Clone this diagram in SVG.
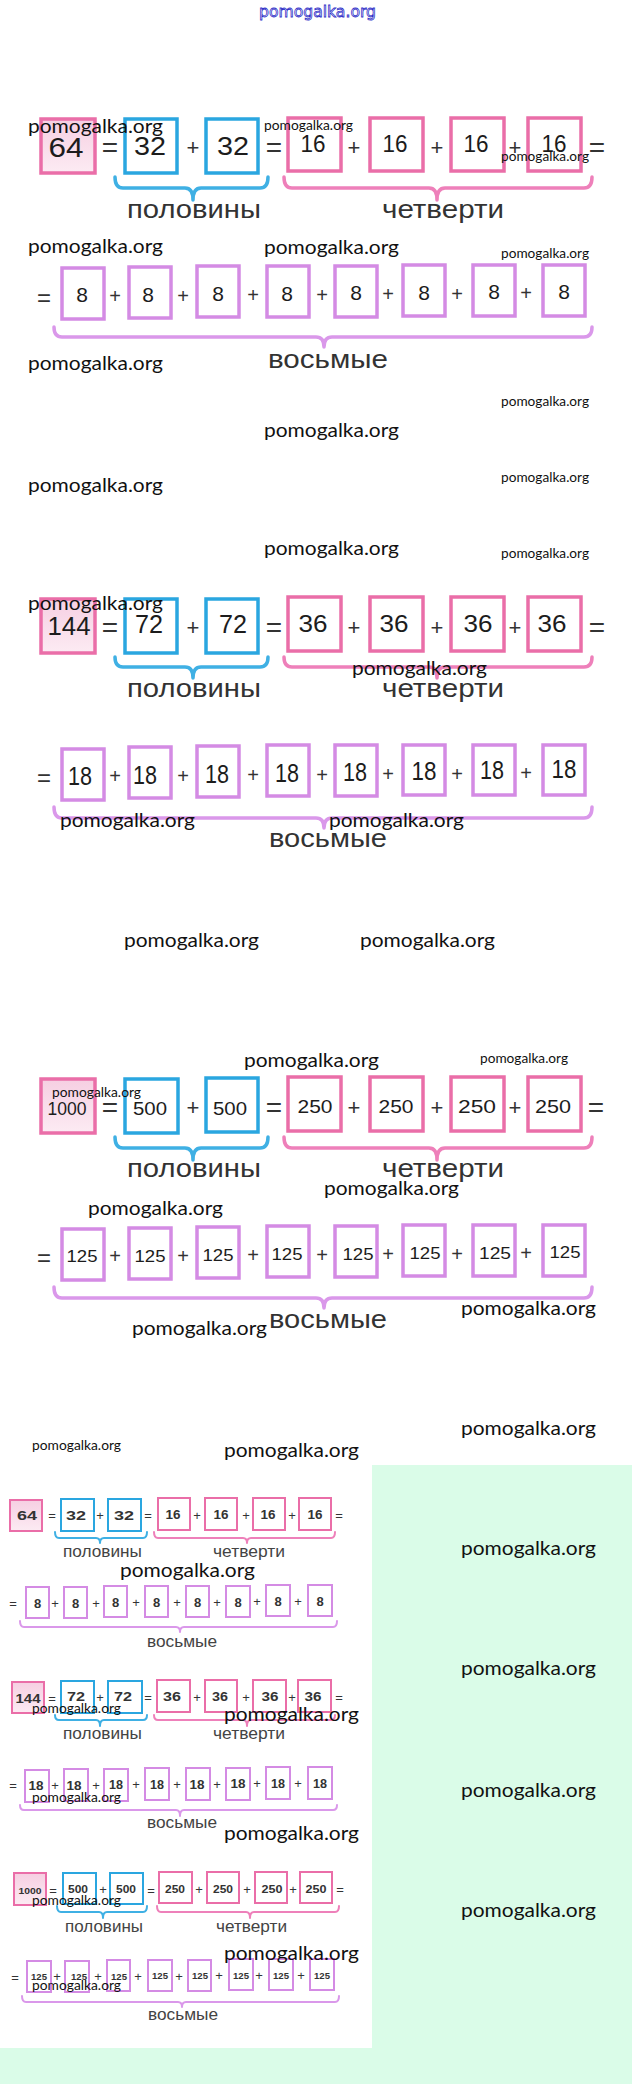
<svg xmlns="http://www.w3.org/2000/svg" width="632" height="2084" viewBox="0 0 632 2084">
<style>
.pk{fill:#fff;stroke:#ea6ea8;stroke-width:3.5}
.pk0{fill:url(#pg);stroke:#ea6ea8;stroke-width:3.5}
.bl{fill:#fff;stroke:#2aa6e0;stroke-width:3.5}
.pu{fill:#fff;stroke:#d48be4;stroke-width:3.5}
.sm .pk,.sm .pk0,.sm .bl,.sm .pu{stroke-width:2}
.n{font-family:"Liberation Sans",Arial,sans-serif;fill:#1c1c1c;text-anchor:middle}
.sm .n{font-weight:bold;fill:#333}
.o{font-family:"Liberation Sans",Arial,sans-serif;fill:#333;text-anchor:middle}
.lab{font-family:"Liberation Sans",Arial,sans-serif;fill:#333;font-size:25px}
.sm .lab{font-size:17px;fill:#444}
.br{fill:none;stroke-width:3.5;stroke-linecap:round;stroke-linejoin:round}
.sm .br{stroke-width:2}
.bb{stroke:#3fb0e4}.bp{stroke:#ee80ba}.bv{stroke:#da98ea}
.w{font-family:Lato,"Open Sans",sans-serif;fill:#111;font-size:20px}
.ws{font-size:13px}
</style>
<defs>
<linearGradient id="pg" x1="0" y1="0" x2="0" y2="1"><stop offset="0" stop-color="#f6cfe2"/><stop offset="1" stop-color="#fcebf3"/></linearGradient>
</defs>
<rect width="632" height="2084" fill="#fff"/>
<rect x="0" y="1465" width="632" height="619" fill="#dafce8"/>
<rect x="0" y="1465" width="372" height="583" fill="#fff"/>

<text x="259" y="17" font-family="DejaVu Sans,sans-serif" font-size="16" textLength="117" lengthAdjust="spacingAndGlyphs" fill="#fff" stroke="#3030c8" stroke-width="0.8">pomogalka.org</text>

<!-- Section 1 -->
<g id="sec1">
<g id="s1-64"><rect class="pk0" x="41" y="119" width="54" height="54"/><text class="n" x="66" y="157" font-size="28" textLength="35" lengthAdjust="spacingAndGlyphs">64</text></g>
<g id="s1-h1"><rect class="bl" x="125" y="119" width="52" height="54"/><text class="n" x="150" y="155" font-size="26" textLength="32" lengthAdjust="spacingAndGlyphs">32</text></g>
<g id="s1-h2"><rect class="bl" x="206" y="119" width="52" height="54"/><text class="n" x="233" y="155" font-size="26" textLength="32" lengthAdjust="spacingAndGlyphs">32</text></g>
<g id="s1-q1"><rect class="pk" x="288" y="118" width="53" height="53"/><text class="n" x="313" y="152" font-size="24" textLength="25" lengthAdjust="spacingAndGlyphs">16</text></g>
<g id="s1-q2"><rect class="pk" x="370" y="118" width="53" height="53"/><text class="n" x="395" y="152" font-size="24" textLength="25" lengthAdjust="spacingAndGlyphs">16</text></g>
<g id="s1-q3"><rect class="pk" x="451" y="118" width="53" height="53"/><text class="n" x="476" y="152" font-size="24" textLength="25" lengthAdjust="spacingAndGlyphs">16</text></g>
<g id="s1-q4"><rect class="pk" x="528" y="118" width="53" height="53"/><text class="n" x="554" y="152" font-size="24" textLength="25" lengthAdjust="spacingAndGlyphs">16</text></g>
<g id="s1-e1"><rect class="pu" x="62" y="268" width="42" height="51"/><text class="n" x="82" y="302" font-size="21">8</text></g>
<g id="s1-e2"><rect class="pu" x="129" y="267" width="42" height="51"/><text class="n" x="148" y="302" font-size="21">8</text></g>
<g id="s1-e3"><rect class="pu" x="197" y="266" width="42" height="51"/><text class="n" x="218" y="301" font-size="21">8</text></g>
<g id="s1-e4"><rect class="pu" x="267" y="266" width="42" height="51"/><text class="n" x="287" y="301" font-size="21">8</text></g>
<g id="s1-e5"><rect class="pu" x="335" y="266" width="42" height="51"/><text class="n" x="356" y="300" font-size="21">8</text></g>
<g id="s1-e6"><rect class="pu" x="403" y="265" width="42" height="51"/><text class="n" x="424" y="300" font-size="21">8</text></g>
<g id="s1-e7"><rect class="pu" x="473" y="265" width="42" height="51"/><text class="n" x="494" y="299" font-size="21">8</text></g>
<g id="s1-e8"><rect class="pu" x="543" y="265" width="42" height="51"/><text class="n" x="564" y="299" font-size="21">8</text></g>
<g id="s1-ops" class="o">
<text x="110" y="157" font-size="28">=</text><text x="193" y="155" font-size="22">+</text><text x="274" y="157" font-size="28">=</text>
<text x="354" y="155" font-size="22">+</text><text x="437" y="155" font-size="22">+</text><text x="515" y="155" font-size="22">+</text><text x="597" y="157" font-size="28">=</text>
<text x="44" y="306" font-size="24">=</text>
<text x="115" y="303" font-size="20">+</text><text x="183" y="303" font-size="20">+</text><text x="253" y="302" font-size="20">+</text><text x="322" y="302" font-size="20">+</text><text x="388" y="301" font-size="20">+</text><text x="457" y="301" font-size="20">+</text><text x="526" y="300" font-size="20">+</text>
</g>
<g id="s1-connectors">
<path class="br bb" d="M115,177 Q115,188 123,188 L185,188 Q193,188 193,200 Q193,188 201,188 L260,188 Q268,188 268,177"/>
<path class="br bp" d="M284,177 Q284,188 292,188 L429,188 Q437,188 437,200 Q437,188 445,188 L584,188 Q592,188 592,177"/>
<path class="br bv" d="M54,327 Q54,337 62,337 L316,337 Q324,337 324,347 Q324,337 332,337 L584,337 Q592,337 592,327"/>
</g>
<g id="s1-labels">
<text class="lab" x="127" y="218" textLength="134" lengthAdjust="spacingAndGlyphs">половины</text>
<text class="lab" x="382" y="218" textLength="122" lengthAdjust="spacingAndGlyphs">четверти</text>
<text class="lab" x="268" y="368" textLength="120" lengthAdjust="spacingAndGlyphs">восьмые</text>
</g>
</g>

<!-- Section 2 -->
<g id="sec2" transform="translate(0,480)">
<g id="s2-144"><rect class="pk0" x="41" y="119" width="54" height="54"/><text class="n" x="69" y="155" font-size="26" textLength="43" lengthAdjust="spacingAndGlyphs">144</text></g>
<g id="s2-h1"><rect class="bl" x="125" y="119" width="52" height="54"/><text class="n" x="149" y="153" font-size="25" textLength="28" lengthAdjust="spacingAndGlyphs">72</text></g>
<g id="s2-h2"><rect class="bl" x="206" y="119" width="52" height="54"/><text class="n" x="233" y="153" font-size="25" textLength="28" lengthAdjust="spacingAndGlyphs">72</text></g>
<g id="s2-q1"><rect class="pk" x="288" y="117" width="53" height="54"/><text class="n" x="313" y="152" font-size="24" textLength="29" lengthAdjust="spacingAndGlyphs">36</text></g>
<g id="s2-q2"><rect class="pk" x="370" y="117" width="53" height="54"/><text class="n" x="394" y="152" font-size="24" textLength="29" lengthAdjust="spacingAndGlyphs">36</text></g>
<g id="s2-q3"><rect class="pk" x="451" y="117" width="53" height="54"/><text class="n" x="478" y="152" font-size="24" textLength="29" lengthAdjust="spacingAndGlyphs">36</text></g>
<g id="s2-q4"><rect class="pk" x="528" y="117" width="53" height="54"/><text class="n" x="552" y="152" font-size="24" textLength="29" lengthAdjust="spacingAndGlyphs">36</text></g>
<g id="s2-e1"><rect class="pu" x="62" y="269" width="42" height="51"/><text class="n" x="80" y="305" font-size="25" textLength="24" lengthAdjust="spacingAndGlyphs">18</text></g>
<g id="s2-e2"><rect class="pu" x="129" y="267" width="42" height="51"/><text class="n" x="145" y="304" font-size="25" textLength="24" lengthAdjust="spacingAndGlyphs">18</text></g>
<g id="s2-e3"><rect class="pu" x="197" y="266" width="42" height="51"/><text class="n" x="217" y="303" font-size="25" textLength="24" lengthAdjust="spacingAndGlyphs">18</text></g>
<g id="s2-e4"><rect class="pu" x="267" y="265" width="42" height="51"/><text class="n" x="287" y="302" font-size="25" textLength="24" lengthAdjust="spacingAndGlyphs">18</text></g>
<g id="s2-e5"><rect class="pu" x="335" y="265" width="42" height="51"/><text class="n" x="355" y="301" font-size="25" textLength="24" lengthAdjust="spacingAndGlyphs">18</text></g>
<g id="s2-e6"><rect class="pu" x="403" y="265" width="42" height="50"/><text class="n" x="424" y="300" font-size="25" textLength="25" lengthAdjust="spacingAndGlyphs">18</text></g>
<g id="s2-e7"><rect class="pu" x="473" y="265" width="42" height="50"/><text class="n" x="492" y="299" font-size="25" textLength="24" lengthAdjust="spacingAndGlyphs">18</text></g>
<g id="s2-e8"><rect class="pu" x="543" y="265" width="42" height="50"/><text class="n" x="564" y="298" font-size="25" textLength="25" lengthAdjust="spacingAndGlyphs">18</text></g>
<g id="s2-ops" class="o">
<text x="110" y="157" font-size="28">=</text><text x="193" y="155" font-size="22">+</text><text x="274" y="157" font-size="28">=</text>
<text x="354" y="155" font-size="22">+</text><text x="437" y="155" font-size="22">+</text><text x="515" y="155" font-size="22">+</text><text x="597" y="157" font-size="28">=</text>
<text x="44" y="306" font-size="24">=</text>
<text x="115" y="303" font-size="20">+</text><text x="183" y="303" font-size="20">+</text><text x="253" y="302" font-size="20">+</text><text x="322" y="302" font-size="20">+</text><text x="388" y="301" font-size="20">+</text><text x="457" y="301" font-size="20">+</text><text x="526" y="300" font-size="20">+</text>
</g>
<g id="s2-connectors">
<path class="br bb" d="M115,177 Q115,187 123,187 L185,187 Q193,187 193,198 Q193,187 201,187 L260,187 Q268,187 268,177"/>
<path class="br bp" d="M284,177 Q284,187 292,187 L429,187 Q437,187 437,198 Q437,187 445,187 L584,187 Q592,187 592,177"/>
<path class="br bv" d="M54,327 Q54,338 62,338 L316,338 Q324,338 324,348 Q324,338 332,338 L584,338 Q592,338 592,327"/>
</g>
<g id="s2-labels">
<text class="lab" x="127" y="217" textLength="134" lengthAdjust="spacingAndGlyphs">половины</text>
<text class="lab" x="382" y="217" textLength="122" lengthAdjust="spacingAndGlyphs">четверти</text>
<text class="lab" x="269" y="367" textLength="118" lengthAdjust="spacingAndGlyphs">восьмые</text>
</g>
</g>

<!-- Section 3 -->
<g id="sec3" transform="translate(0,960)">
<g id="s3-1000"><rect class="pk0" x="41" y="119" width="54" height="54"/><text class="n" x="67" y="155" font-size="18" textLength="39" lengthAdjust="spacingAndGlyphs">1000</text></g>
<g id="s3-h1"><rect class="bl" x="125" y="119" width="53" height="54"/><text class="n" x="150" y="155" font-size="18" textLength="34" lengthAdjust="spacingAndGlyphs">500</text></g>
<g id="s3-h2"><rect class="bl" x="206" y="118" width="52" height="54"/><text class="n" x="230" y="155" font-size="18" textLength="34" lengthAdjust="spacingAndGlyphs">500</text></g>
<g id="s3-q1"><rect class="pk" x="288" y="117" width="53" height="54"/><text class="n" x="315" y="153" font-size="18" textLength="35" lengthAdjust="spacingAndGlyphs">250</text></g>
<g id="s3-q2"><rect class="pk" x="370" y="117" width="53" height="54"/><text class="n" x="396" y="153" font-size="18" textLength="35" lengthAdjust="spacingAndGlyphs">250</text></g>
<g id="s3-q3"><rect class="pk" x="451" y="117" width="53" height="54"/><text class="n" x="477" y="153" font-size="18" textLength="38" lengthAdjust="spacingAndGlyphs">250</text></g>
<g id="s3-q4"><rect class="pk" x="528" y="117" width="53" height="54"/><text class="n" x="553" y="153" font-size="18" textLength="36" lengthAdjust="spacingAndGlyphs">250</text></g>
<g id="s3-e1"><rect class="pu" x="62" y="269" width="42" height="51"/><text class="n" x="82" y="302" font-size="17" textLength="31" lengthAdjust="spacingAndGlyphs">125</text></g>
<g id="s3-e2"><rect class="pu" x="129" y="268" width="42" height="51"/><text class="n" x="150" y="302" font-size="17" textLength="31" lengthAdjust="spacingAndGlyphs">125</text></g>
<g id="s3-e3"><rect class="pu" x="197" y="267" width="42" height="51"/><text class="n" x="218" y="301" font-size="17" textLength="31" lengthAdjust="spacingAndGlyphs">125</text></g>
<g id="s3-e4"><rect class="pu" x="267" y="266" width="42" height="51"/><text class="n" x="287" y="300" font-size="17" textLength="31" lengthAdjust="spacingAndGlyphs">125</text></g>
<g id="s3-e5"><rect class="pu" x="335" y="266" width="42" height="51"/><text class="n" x="358" y="300" font-size="17" textLength="31" lengthAdjust="spacingAndGlyphs">125</text></g>
<g id="s3-e6"><rect class="pu" x="403" y="265" width="42" height="51"/><text class="n" x="425" y="299" font-size="17" textLength="31" lengthAdjust="spacingAndGlyphs">125</text></g>
<g id="s3-e7"><rect class="pu" x="473" y="265" width="42" height="51"/><text class="n" x="495" y="299" font-size="17" textLength="32" lengthAdjust="spacingAndGlyphs">125</text></g>
<g id="s3-e8"><rect class="pu" x="543" y="265" width="42" height="51"/><text class="n" x="565" y="298" font-size="17" textLength="31" lengthAdjust="spacingAndGlyphs">125</text></g>
<g id="s3-ops" class="o">
<text x="110" y="157" font-size="28">=</text><text x="193" y="155" font-size="22">+</text><text x="274" y="157" font-size="28">=</text>
<text x="354" y="155" font-size="22">+</text><text x="437" y="155" font-size="22">+</text><text x="515" y="155" font-size="22">+</text><text x="596" y="157" font-size="28">=</text>
<text x="44" y="306" font-size="24">=</text>
<text x="115" y="303" font-size="20">+</text><text x="183" y="303" font-size="20">+</text><text x="253" y="302" font-size="20">+</text><text x="322" y="302" font-size="20">+</text><text x="388" y="301" font-size="20">+</text><text x="457" y="301" font-size="20">+</text><text x="526" y="300" font-size="20">+</text>
</g>
<g id="s3-connectors">
<path class="br bb" d="M115,177 Q115,188 123,188 L185,188 Q193,188 193,200 Q193,188 201,188 L260,188 Q268,188 268,177"/>
<path class="br bp" d="M284,177 Q284,188 292,188 L429,188 Q437,188 437,200 Q437,188 445,188 L584,188 Q592,188 592,177"/>
<path class="br bv" d="M54,327 Q54,338 62,338 L316,338 Q324,338 324,348 Q324,338 332,338 L584,338 Q592,338 592,327"/>
</g>
<g id="s3-labels">
<text class="lab" x="127" y="217" textLength="134" lengthAdjust="spacingAndGlyphs">половины</text>
<text class="lab" x="382" y="217" textLength="122" lengthAdjust="spacingAndGlyphs">четверти</text>
<text class="lab" x="269" y="368" textLength="118" lengthAdjust="spacingAndGlyphs">восьмые</text>
</g>
</g>

<!-- Small panel -->
<g id="small" class="sm">
<g id="p1">
<g id="p1-64"><rect class="pk0" x="10" y="1500" width="32" height="31"/><text class="n" x="27" y="1520" font-size="12" textLength="20" lengthAdjust="spacingAndGlyphs">64</text></g>
<g id="p1-h1"><rect class="bl" x="61" y="1499" width="33" height="32"/><text class="n" x="76" y="1520" font-size="12" textLength="20" lengthAdjust="spacingAndGlyphs">32</text></g>
<g id="p1-h2"><rect class="bl" x="108" y="1499" width="33" height="32"/><text class="n" x="124" y="1520" font-size="12" textLength="20" lengthAdjust="spacingAndGlyphs">32</text></g>
<g id="p1-q1"><rect class="pk" x="158" y="1498" width="32" height="32"/><text class="n" x="173" y="1519" font-size="12" textLength="15" lengthAdjust="spacingAndGlyphs">16</text></g>
<g id="p1-q2"><rect class="pk" x="205" y="1498" width="32" height="32"/><text class="n" x="221" y="1519" font-size="12" textLength="15" lengthAdjust="spacingAndGlyphs">16</text></g>
<g id="p1-q3"><rect class="pk" x="253" y="1498" width="32" height="32"/><text class="n" x="268" y="1519" font-size="12" textLength="15" lengthAdjust="spacingAndGlyphs">16</text></g>
<g id="p1-q4"><rect class="pk" x="299" y="1498" width="32" height="32"/><text class="n" x="315" y="1519" font-size="12" textLength="15" lengthAdjust="spacingAndGlyphs">16</text></g>
<g id="p1-e1"><rect class="pu" x="26" y="1587" width="23" height="31"/><text class="n" x="37.5" y="1608" font-size="13">8</text></g>
<g id="p1-e2"><rect class="pu" x="64" y="1587" width="23" height="31"/><text class="n" x="75.5" y="1608" font-size="13">8</text></g>
<g id="p1-e3"><rect class="pu" x="104" y="1586" width="23" height="31"/><text class="n" x="115.5" y="1607" font-size="13">8</text></g>
<g id="p1-e4"><rect class="pu" x="145" y="1586" width="23" height="31"/><text class="n" x="156.5" y="1607" font-size="13">8</text></g>
<g id="p1-e5"><rect class="pu" x="186" y="1586" width="23" height="31"/><text class="n" x="197.5" y="1607" font-size="13">8</text></g>
<g id="p1-e6"><rect class="pu" x="226" y="1586" width="24" height="31"/><text class="n" x="238" y="1607" font-size="13">8</text></g>
<g id="p1-e7"><rect class="pu" x="266" y="1585" width="24" height="31"/><text class="n" x="278" y="1606" font-size="13">8</text></g>
<g id="p1-e8"><rect class="pu" x="308" y="1585" width="24" height="31"/><text class="n" x="320" y="1606" font-size="13">8</text></g>
<g id="p1-ops" class="o" font-size="13">
<text x="52" y="1520">=</text><text x="100" y="1520">+</text><text x="148" y="1520">=</text><text x="197" y="1520">+</text><text x="246" y="1520">+</text><text x="292" y="1520">+</text><text x="339" y="1520">=</text>
<text x="13" y="1608">=</text><text x="55" y="1608">+</text><text x="96" y="1608">+</text><text x="136" y="1607">+</text><text x="177" y="1607">+</text><text x="217" y="1607">+</text><text x="257" y="1606">+</text><text x="298" y="1606">+</text>
</g>
<g id="p1-connectors">
<path class="br bb" d="M55,1532 Q55,1538 59,1538 L96,1538 Q100,1538 100,1543 Q100,1538 104,1538 L143,1538 Q147,1538 147,1532"/>
<path class="br bp" d="M154,1532 Q154,1538 158,1538 L243,1538 Q247,1538 247,1543 Q247,1538 251,1538 L331,1538 Q335,1538 335,1532"/>
<path class="br bv" d="M20,1621 Q20,1627 24,1627 L176,1627 Q180,1627 180,1632 Q180,1627 184,1627 L333,1627 Q337,1627 337,1621"/>
</g>
<g id="p1-labels">
<text class="lab" x="63" y="1557" textLength="79" lengthAdjust="spacingAndGlyphs">половины</text>
<text class="lab" x="213" y="1557" textLength="72" lengthAdjust="spacingAndGlyphs">четверти</text>
<text class="lab" x="147" y="1647" textLength="70" lengthAdjust="spacingAndGlyphs">восьмые</text>
</g>
</g>

<g id="p2" transform="translate(1,182)">
<g id="p2-144"><rect class="pk0" x="11" y="1500" width="32" height="31"/><text class="n" x="27" y="1521" font-size="12" textLength="25" lengthAdjust="spacingAndGlyphs">144</text></g>
<g id="p2-h1"><rect class="bl" x="60" y="1499" width="33" height="32"/><text class="n" x="75" y="1519" font-size="12" textLength="18" lengthAdjust="spacingAndGlyphs">72</text></g>
<g id="p2-h2"><rect class="bl" x="107" y="1499" width="34" height="32"/><text class="n" x="122" y="1519" font-size="12" textLength="18" lengthAdjust="spacingAndGlyphs">72</text></g>
<g id="p2-q1"><rect class="pk" x="156" y="1498" width="33" height="32"/><text class="n" x="171" y="1519" font-size="12" textLength="18" lengthAdjust="spacingAndGlyphs">36</text></g>
<g id="p2-q2"><rect class="pk" x="204" y="1498" width="32" height="32"/><text class="n" x="219" y="1519" font-size="12" textLength="16" lengthAdjust="spacingAndGlyphs">36</text></g>
<g id="p2-q3"><rect class="pk" x="252" y="1498" width="33" height="32"/><text class="n" x="269" y="1519" font-size="12" textLength="17" lengthAdjust="spacingAndGlyphs">36</text></g>
<g id="p2-q4"><rect class="pk" x="297" y="1498" width="33" height="32"/><text class="n" x="312" y="1519" font-size="12" textLength="17" lengthAdjust="spacingAndGlyphs">36</text></g>
<g id="p2-e1"><rect class="pu" x="24" y="1588" width="24" height="32"/><text class="n" x="35" y="1608" font-size="13" textLength="15" lengthAdjust="spacingAndGlyphs">18</text></g>
<g id="p2-e2"><rect class="pu" x="63" y="1587" width="24" height="32"/><text class="n" x="73" y="1608" font-size="13" textLength="15" lengthAdjust="spacingAndGlyphs">18</text></g>
<g id="p2-e3"><rect class="pu" x="103" y="1587" width="24" height="32"/><text class="n" x="115" y="1607" font-size="13" textLength="14" lengthAdjust="spacingAndGlyphs">18</text></g>
<g id="p2-e4"><rect class="pu" x="144" y="1586" width="24" height="32"/><text class="n" x="156" y="1607" font-size="13" textLength="14" lengthAdjust="spacingAndGlyphs">18</text></g>
<g id="p2-e5"><rect class="pu" x="185" y="1586" width="24" height="32"/><text class="n" x="196" y="1607" font-size="13" textLength="15" lengthAdjust="spacingAndGlyphs">18</text></g>
<g id="p2-e6"><rect class="pu" x="225" y="1586" width="24" height="32"/><text class="n" x="237" y="1606" font-size="13" textLength="15" lengthAdjust="spacingAndGlyphs">18</text></g>
<g id="p2-e7"><rect class="pu" x="265" y="1585" width="24" height="32"/><text class="n" x="277" y="1606" font-size="13" textLength="14" lengthAdjust="spacingAndGlyphs">18</text></g>
<g id="p2-e8"><rect class="pu" x="307" y="1585" width="24" height="32"/><text class="n" x="319" y="1606" font-size="13" textLength="14" lengthAdjust="spacingAndGlyphs">18</text></g>
<g id="p2-ops" class="o" font-size="13">
<text x="51" y="1521">=</text><text x="99" y="1520">+</text><text x="147" y="1520">=</text><text x="196" y="1520">+</text><text x="245" y="1520">+</text><text x="291" y="1520">+</text><text x="338" y="1520">=</text>
<text x="12" y="1608">=</text><text x="54" y="1608">+</text><text x="95" y="1608">+</text><text x="135" y="1607">+</text><text x="176" y="1607">+</text><text x="216" y="1607">+</text><text x="256" y="1606">+</text><text x="297" y="1606">+</text>
</g>
<g id="p2-connectors">
<path class="br bb" d="M54,1533 Q54,1538 58,1538 L95,1538 Q99,1538 99,1544 Q99,1538 103,1538 L142,1538 Q146,1538 146,1533"/>
<path class="br bp" d="M153,1533 Q153,1538 157,1538 L242,1538 Q246,1538 246,1544 Q246,1538 250,1538 L330,1538 Q334,1538 334,1533"/>
<path class="br bv" d="M19,1623 Q19,1628 23,1628 L175,1628 Q179,1628 179,1634 Q179,1628 183,1628 L332,1628 Q336,1628 336,1623"/>
</g>
<g id="p2-labels">
<text class="lab" x="62" y="1557" textLength="79" lengthAdjust="spacingAndGlyphs">половины</text>
<text class="lab" x="212" y="1557" textLength="72" lengthAdjust="spacingAndGlyphs">четверти</text>
<text class="lab" x="146" y="1646" textLength="70" lengthAdjust="spacingAndGlyphs">восьмые</text>
</g>
</g>

<g id="p3" transform="translate(2,374)">
<g id="p3-1000"><rect class="pk0" x="12" y="1499" width="32" height="32"/><text class="n" x="28" y="1520" font-size="9" textLength="23" lengthAdjust="spacingAndGlyphs">1000</text></g>
<g id="p3-h1"><rect class="bl" x="61" y="1499" width="33" height="31"/><text class="n" x="76" y="1519" font-size="10" textLength="20" lengthAdjust="spacingAndGlyphs">500</text></g>
<g id="p3-h2"><rect class="bl" x="108" y="1499" width="33" height="31"/><text class="n" x="124" y="1519" font-size="10" textLength="20" lengthAdjust="spacingAndGlyphs">500</text></g>
<g id="p3-q1"><rect class="pk" x="157" y="1498" width="33" height="31"/><text class="n" x="173" y="1519" font-size="10" textLength="20" lengthAdjust="spacingAndGlyphs">250</text></g>
<g id="p3-q2"><rect class="pk" x="205" y="1498" width="32" height="31"/><text class="n" x="221" y="1519" font-size="10" textLength="20" lengthAdjust="spacingAndGlyphs">250</text></g>
<g id="p3-q3"><rect class="pk" x="253" y="1498" width="32" height="31"/><text class="n" x="270" y="1519" font-size="10" textLength="21" lengthAdjust="spacingAndGlyphs">250</text></g>
<g id="p3-q4"><rect class="pk" x="298" y="1498" width="32" height="31"/><text class="n" x="314" y="1519" font-size="10" textLength="21" lengthAdjust="spacingAndGlyphs">250</text></g>
<g id="p3-e1"><rect class="pu" x="25" y="1587" width="24" height="31"/><text class="n" x="37" y="1606" font-size="9.5" textLength="16" lengthAdjust="spacingAndGlyphs">125</text></g>
<g id="p3-e2"><rect class="pu" x="63" y="1587" width="24" height="31"/><text class="n" x="77" y="1606" font-size="9.5" textLength="16" lengthAdjust="spacingAndGlyphs">125</text></g>
<g id="p3-e3"><rect class="pu" x="105" y="1586" width="23" height="31"/><text class="n" x="117" y="1606" font-size="9.5" textLength="16" lengthAdjust="spacingAndGlyphs">125</text></g>
<g id="p3-e4"><rect class="pu" x="146" y="1586" width="24" height="31"/><text class="n" x="158" y="1605" font-size="9.5" textLength="16" lengthAdjust="spacingAndGlyphs">125</text></g>
<g id="p3-e5"><rect class="pu" x="186" y="1586" width="23" height="31"/><text class="n" x="198" y="1605" font-size="9.5" textLength="16" lengthAdjust="spacingAndGlyphs">125</text></g>
<g id="p3-e6"><rect class="pu" x="227" y="1585" width="24" height="31"/><text class="n" x="239" y="1605" font-size="9.5" textLength="16" lengthAdjust="spacingAndGlyphs">125</text></g>
<g id="p3-e7"><rect class="pu" x="267" y="1585" width="24" height="31"/><text class="n" x="279" y="1605" font-size="9.5" textLength="16" lengthAdjust="spacingAndGlyphs">125</text></g>
<g id="p3-e8"><rect class="pu" x="308" y="1585" width="24" height="31"/><text class="n" x="320" y="1605" font-size="9.5" textLength="16" lengthAdjust="spacingAndGlyphs">125</text></g>
<g id="p3-ops" class="o" font-size="13">
<text x="51" y="1521">=</text><text x="101" y="1520">+</text><text x="149" y="1521">=</text><text x="197" y="1520">+</text><text x="245" y="1520">+</text><text x="291" y="1520">+</text><text x="338" y="1520">=</text>
<text x="13" y="1608">=</text><text x="55" y="1607">+</text><text x="96" y="1607">+</text><text x="136" y="1607">+</text><text x="177" y="1607">+</text><text x="217" y="1606">+</text><text x="257" y="1606">+</text><text x="299" y="1606">+</text>
</g>
<g id="p3-connectors">
<path class="br bb" d="M55,1532 Q55,1538 59,1538 L97,1538 Q101,1538 101,1544 Q101,1538 105,1538 L141,1538 Q145,1538 145,1532"/>
<path class="br bp" d="M155,1532 Q155,1538 159,1538 L244,1538 Q248,1538 248,1544 Q248,1538 252,1538 L333,1538 Q337,1538 337,1532"/>
<path class="br bv" d="M20,1622 Q20,1628 24,1628 L176,1628 Q180,1628 180,1633 Q180,1628 184,1628 L333,1628 Q337,1628 337,1622"/>
</g>
<g id="p3-labels">
<text class="lab" x="63" y="1558" textLength="78" lengthAdjust="spacingAndGlyphs">половины</text>
<text class="lab" x="214" y="1558" textLength="71" lengthAdjust="spacingAndGlyphs">четверти</text>
<text class="lab" x="146" y="1646" textLength="70" lengthAdjust="spacingAndGlyphs">восьмые</text>
</g>
</g>
</g>

<!-- Watermarks -->
<g id="watermarks" class="w">
<text x="28" y="133" textLength="135" lengthAdjust="spacingAndGlyphs">pomogalka.org</text>
<text class="ws" x="264" y="130" textLength="89" lengthAdjust="spacingAndGlyphs">pomogalka.org</text>
<text class="ws" x="501" y="161" textLength="88" lengthAdjust="spacingAndGlyphs">pomogalka.org</text>
<text x="28" y="253" textLength="135" lengthAdjust="spacingAndGlyphs">pomogalka.org</text>
<text x="264" y="254" textLength="135" lengthAdjust="spacingAndGlyphs">pomogalka.org</text>
<text class="ws" x="501" y="258" textLength="88" lengthAdjust="spacingAndGlyphs">pomogalka.org</text>
<text x="28" y="370" textLength="135" lengthAdjust="spacingAndGlyphs">pomogalka.org</text>
<text class="ws" x="501" y="406" textLength="88" lengthAdjust="spacingAndGlyphs">pomogalka.org</text>
<text x="264" y="437" textLength="135" lengthAdjust="spacingAndGlyphs">pomogalka.org</text>
<text x="28" y="492" textLength="135" lengthAdjust="spacingAndGlyphs">pomogalka.org</text>
<text class="ws" x="501" y="482" textLength="88" lengthAdjust="spacingAndGlyphs">pomogalka.org</text>
<text x="264" y="555" textLength="135" lengthAdjust="spacingAndGlyphs">pomogalka.org</text>
<text class="ws" x="501" y="558" textLength="88" lengthAdjust="spacingAndGlyphs">pomogalka.org</text>
<text x="28" y="610" textLength="135" lengthAdjust="spacingAndGlyphs">pomogalka.org</text>
<text x="352" y="675" textLength="135" lengthAdjust="spacingAndGlyphs">pomogalka.org</text>
<text x="60" y="827" textLength="135" lengthAdjust="spacingAndGlyphs">pomogalka.org</text>
<text x="329" y="827" textLength="135" lengthAdjust="spacingAndGlyphs">pomogalka.org</text>
<text x="124" y="947" textLength="135" lengthAdjust="spacingAndGlyphs">pomogalka.org</text>
<text x="360" y="947" textLength="135" lengthAdjust="spacingAndGlyphs">pomogalka.org</text>
<text x="244" y="1067" textLength="135" lengthAdjust="spacingAndGlyphs">pomogalka.org</text>
<text class="ws" x="480" y="1063" textLength="88" lengthAdjust="spacingAndGlyphs">pomogalka.org</text>
<text class="ws" x="52" y="1097" textLength="89" lengthAdjust="spacingAndGlyphs">pomogalka.org</text>
<text x="324" y="1195" textLength="135" lengthAdjust="spacingAndGlyphs">pomogalka.org</text>
<text x="88" y="1215" textLength="135" lengthAdjust="spacingAndGlyphs">pomogalka.org</text>
<text x="461" y="1315" textLength="135" lengthAdjust="spacingAndGlyphs">pomogalka.org</text>
<text x="132" y="1335" textLength="135" lengthAdjust="spacingAndGlyphs">pomogalka.org</text>
<text x="461" y="1435" textLength="135" lengthAdjust="spacingAndGlyphs">pomogalka.org</text>
<text class="ws" x="32" y="1450" textLength="89" lengthAdjust="spacingAndGlyphs">pomogalka.org</text>
<text x="224" y="1457" textLength="135" lengthAdjust="spacingAndGlyphs">pomogalka.org</text>
<text x="461" y="1555" textLength="135" lengthAdjust="spacingAndGlyphs">pomogalka.org</text>
<text x="120" y="1577" textLength="135" lengthAdjust="spacingAndGlyphs">pomogalka.org</text>
<text x="461" y="1675" textLength="135" lengthAdjust="spacingAndGlyphs">pomogalka.org</text>
<text class="ws" x="32" y="1713" textLength="89" lengthAdjust="spacingAndGlyphs">pomogalka.org</text>
<text x="224" y="1721" textLength="135" lengthAdjust="spacingAndGlyphs">pomogalka.org</text>
<text x="461" y="1797" textLength="135" lengthAdjust="spacingAndGlyphs">pomogalka.org</text>
<text class="ws" x="32" y="1802" textLength="89" lengthAdjust="spacingAndGlyphs">pomogalka.org</text>
<text x="224" y="1840" textLength="135" lengthAdjust="spacingAndGlyphs">pomogalka.org</text>
<text x="461" y="1917" textLength="135" lengthAdjust="spacingAndGlyphs">pomogalka.org</text>
<text class="ws" x="32" y="1905" textLength="89" lengthAdjust="spacingAndGlyphs">pomogalka.org</text>
<text x="224" y="1960" textLength="135" lengthAdjust="spacingAndGlyphs">pomogalka.org</text>
<text class="ws" x="32" y="1990" textLength="89" lengthAdjust="spacingAndGlyphs">pomogalka.org</text>
</g>
</svg>
